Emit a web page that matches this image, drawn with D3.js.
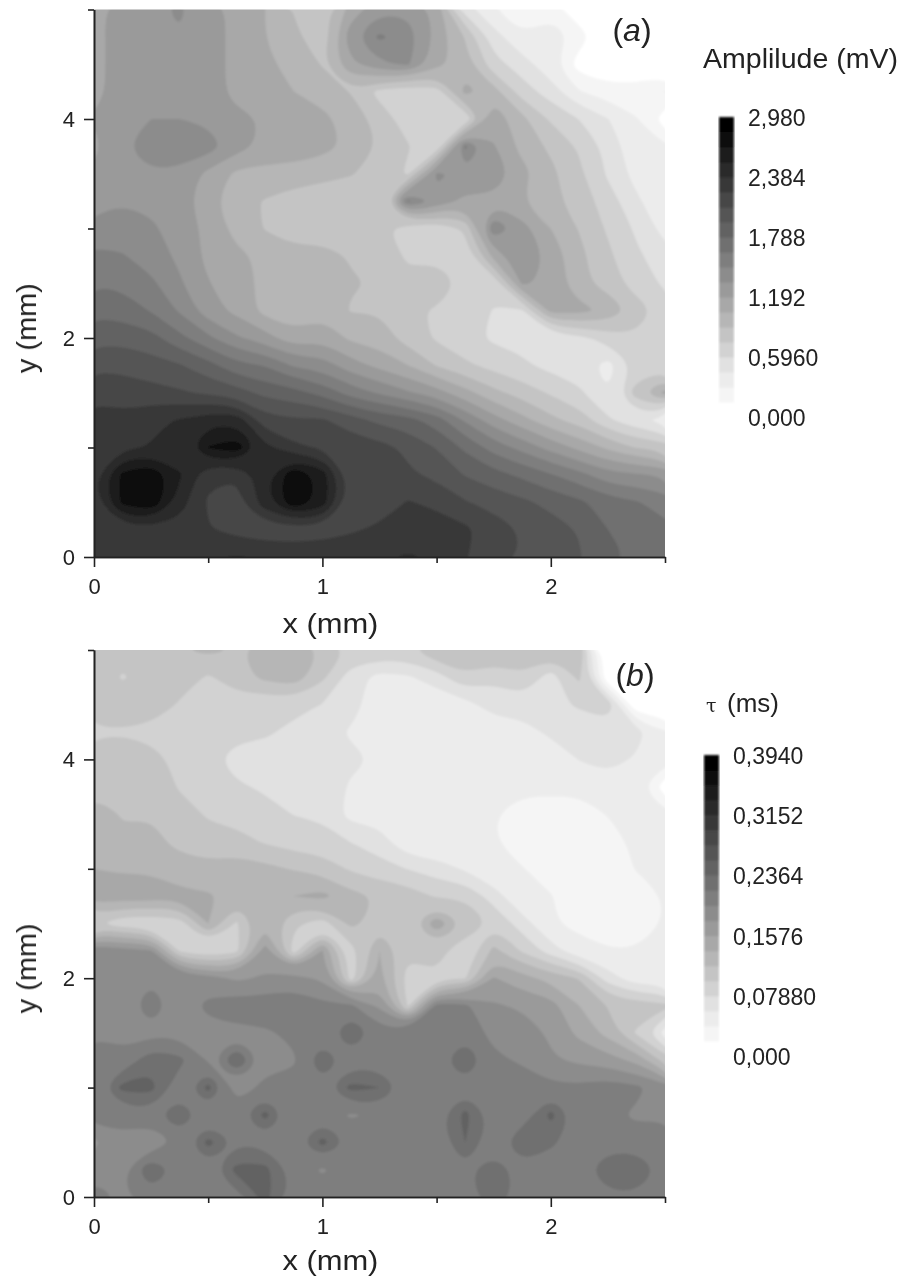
<!DOCTYPE html>
<html>
<head>
<meta charset="utf-8">
<script src="https://cdnjs.cloudflare.com/ajax/libs/d3/7.8.5/d3.min.js"></script>
<style>
  html, body { margin: 0; background: #fff; }
  svg { display: block; }
  text { font-family: "Liberation Sans", Arial, sans-serif; fill: #222; }
  .axis path, .axis line { stroke: #222; stroke-width: 1.6; }
</style>
</head>
<body>
<svg id="fig" width="901" height="1278"></svg>
<script>
// both maps: rows run from y = 5 mm down to y = 0, columns from x = 0 to 2.5 mm
// values are read against the colour bars, 255 = top of the bar
const ampGrid = [
  [90,100,105,110,100,90,80,65,60,85,105,105,90,30,15,10,10,3,0,0,0],
  [90,100,105,107,100,90,80,70,55,105,125,115,90,65,30,15,23,10,0,0,0],
  [90,100,105,105,100,90,83,75,65,90,105,110,85,72,43,30,17,5,0,0,0],
  [90,100,105,103,100,90,85,80,75,65,47,42,45,85,72,45,30,15,10,10,15],
  [95,105,108,108,105,97,93,88,83,75,60,45,40,40,90,70,50,37,25,15,5],
  [90,107,115,115,115,100,90,90,85,77,65,53,40,125,95,75,63,50,33,17,15],
  [97,105,107,105,90,77,75,73,70,67,60,50,110,105,105,85,70,55,35,20,15],
  [100,107,105,100,85,70,65,60,58,57,55,125,105,90,90,80,70,60,45,27,15],
  [115,115,110,103,90,75,65,60,60,60,55,45,40,55,120,100,80,65,50,35,20],
  [125,123,115,105,90,83,77,70,70,65,60,50,47,43,85,105,90,70,55,40,30],
  [135,133,125,110,95,85,77,70,77,67,65,55,65,47,40,97,90,70,60,45,35],
  [147,143,135,120,100,90,75,70,75,65,65,55,50,42,37,35,85,85,77,60,45],
  [160,160,155,140,125,110,100,85,90,77,73,60,50,42,35,33,27,33,45,50,50],
  [175,173,170,165,155,140,135,120,115,100,90,80,65,55,47,40,33,30,20,40,45],
  [190,187,183,180,175,170,160,155,145,130,120,110,100,85,70,60,50,40,25,60,85],
  [195,195,203,207,215,215,183,180,180,170,160,155,143,120,100,85,70,60,40,27,20],
  [197,203,207,207,235,243,210,195,190,187,183,175,163,147,130,117,103,90,77,65,60],
  [203,238,247,222,195,193,215,247,228,185,180,180,175,163,155,147,137,127,113,110,105],
  [200,238,247,213,190,187,215,247,228,183,183,193,187,179,173,167,160,153,143,137,130],
  [195,197,200,200,193,187,183,183,185,190,195,200,203,195,185,177,170,163,150,145,140],
  [197,200,203,203,205,207,205,203,203,203,205,207,205,193,183,177,170,165,155,147,143]
];
const tauGrid = [
  [65,60,60,65,70,65,70,75,65,50,50,50,65,65,65,65,60,65,0,0,0],
  [65,50,60,60,50,60,70,75,55,30,20,23,30,50,40,50,30,55,0,0,0],
  [60,65,65,50,45,45,40,43,37,30,17,17,17,20,30,30,33,40,50,0,0],
  [50,50,45,43,43,43,40,33,30,23,20,20,17,17,17,20,27,27,27,29,15],
  [60,65,60,45,43,30,30,33,27,27,23,23,23,19,17,17,17,25,29,23,20],
  [60,65,65,50,43,40,35,33,33,23,20,23,23,19,17,17,17,17,19,17,5],
  [75,65,65,60,50,45,43,37,35,20,19,17,15,15,15,10,10,10,15,17,17],
  [70,68,70,62,58,58,50,45,43,37,30,15,15,15,15,10,9,9,10,17,17],
  [80,78,78,72,70,72,70,65,60,50,43,37,30,23,15,15,10,10,10,15,17],
  [88,88,88,84,82,75,75,80,85,70,65,60,50,50,30,15,15,10,10,10,15],
  [55,40,40,45,80,50,78,55,45,70,60,60,90,65,50,30,15,13,10,10,15],
  [120,115,110,50,38,48,100,45,95,45,80,55,58,40,70,50,30,17,15,15,17],
  [120,120,120,120,115,105,110,115,105,45,85,45,50,50,95,85,75,65,30,17,17],
  [120,115,130,115,125,130,130,130,125,125,105,50,127,125,110,105,100,80,65,60,55],
  [120,118,118,118,118,118,120,125,125,150,128,130,130,130,118,118,105,90,75,50,20],
  [135,125,145,140,120,150,118,120,148,128,127,130,130,150,125,120,110,105,100,90,60],
  [125,155,155,125,155,115,125,127,130,155,150,127,130,130,130,130,125,125,130,125,115],
  [130,125,130,150,125,130,155,125,130,120,125,135,130,155,130,125,155,127,125,120,120],
  [105,120,110,125,155,135,130,130,155,133,130,130,125,150,125,150,138,130,130,127,130],
  [115,120,150,130,130,155,155,130,120,130,130,130,130,133,145,130,130,130,145,150,130],
  [130,120,130,130,130,130,155,130,130,130,130,133,133,133,140,133,133,133,133,133,130]
];
const ampMax = 2.98;
const tauMax = 0.394;
const ampTicks = [0, 0.596, 1.192, 1.788, 2.384, 2.98];
const ampTickLabels = ['0,000', '0,5960', '1,192', '1,788', '2,384', '2,980'];
const tauTicks = [0, 0.0788, 0.1576, 0.2364, 0.3152, 0.394];
const tauTickLabels = ['0,000', '0,07880', '0,1576', '0,2364', '0,3152', '0,3940'];
const xMajor = [0, 1, 2];
const xMinor = [0.5, 1.5, 2.5];
const yMajor = [0, 2, 4];
const yMinor = [1, 3, 5];
const nLevels = 20;

const svg = d3.select('#fig');
const defs = svg.append('defs');
defs.append('filter').attr('id', 'soft')
  .attr('x', '-2%').attr('y', '-2%').attr('width', '104%').attr('height', '104%')
  .append('feGaussianBlur').attr('stdDeviation', 0.9);
defs.append('filter').attr('id', 'softText')
  .attr('x', '-10%').attr('y', '-10%').attr('width', '120%').attr('height', '120%')
  .append('feGaussianBlur').attr('stdDeviation', 0.45);

const x = d3.scaleLinear().domain([0, 2.5]).range([94, 665]);
// the bar's pale end is squeezed, so both scales bend there
const grey = d3.scaleLinear().domain([0, 1, 2, 3, 4, nLevels - 1]).range([255, 245, 236, 225, 210, 0]);
const readLevel = d3.scaleLinear().domain([0, 5, 10, 19, 30, 45, 255]).range([0, 0.5, 1.5, 2.5, 3.5, 4.5, 19.5]);
const colorOf = k => { const g = Math.round(grey(k)); return `rgb(${g},${g},${g})`; };

function drawPanel(id, grid, vMax, top, bottom, letter, letterX, letterY, xLabelY) {
  const y = d3.scaleLinear().domain([0, 5]).range([bottom, top]);
  const g = svg.append('g');

  g.append('clipPath').attr('id', 'clip' + id)
    .append('rect')
    .attr('x', x(0)).attr('y', y(5))
    .attr('width', x(2.5) - x(0)).attr('height', y(0) - y(5));

  const rows = grid.length, cols = grid[0].length;
  const step = vMax / nLevels;
  const flat = grid.flat().map(d => readLevel(d) * step);
  const thresholds = d3.range(0, nLevels).map(k => k * step);

  const contours = d3.contours().size([cols, rows]).thresholds(thresholds)(flat);

  // contour coordinates sit half a cell off the grid nodes
  const ringLine = d3.line()
    .x(p => x((p[0] - 0.5) * 2.5 / (cols - 1)))
    .y(p => y(5 - (p[1] - 0.5) * 5 / (rows - 1)))
    .curve(d3.curveBasisClosed);
  const pathOf = d => d.coordinates
    .flatMap(poly => poly.map(ring => ringLine(ring.slice(0, -1))))
    .join('');

  g.append('g')
    .attr('clip-path', `url(#clip${id})`)
    .append('g')
    .attr('filter', 'url(#soft)')
    .selectAll('path')
    .data(contours)
    .join('path')
    .attr('d', pathOf)
    .attr('fill-rule', 'evenodd')
    .attr('fill', (d, i) => colorOf(i));

  // major and minor ticks are two axes on top of each other
  const axisLayer = g.append('g').attr('class', 'axis');
  axisLayer.append('g').attr('transform', `translate(${x(0)},0)`)
    .call(d3.axisLeft(y).tickValues(yMajor).tickSize(10).tickSizeOuter(0).tickPadding(9).tickFormat(d3.format('d')));
  axisLayer.append('g').attr('transform', `translate(${x(0)},0)`)
    .call(d3.axisLeft(y).tickValues(yMinor).tickSize(6).tickSizeOuter(0).tickFormat(''));
  axisLayer.append('g').attr('transform', `translate(0,${y(0)})`)
    .call(d3.axisBottom(x).tickValues(xMajor).tickSize(10).tickSizeOuter(0).tickPadding(11).tickFormat(d3.format('d')));
  axisLayer.append('g').attr('transform', `translate(0,${y(0)})`)
    .call(d3.axisBottom(x).tickValues(xMinor).tickSize(6).tickSizeOuter(0).tickFormat(''));
  axisLayer.selectAll('text').style('font-size', '22px').style('font-family', '"Liberation Sans", Arial, sans-serif');

  g.append('text')
    .attr('x', x(1.035)).attr('y', xLabelY)
    .attr('text-anchor', 'middle')
    .attr('textLength', 96).attr('lengthAdjust', 'spacingAndGlyphs')
    .style('font-size', '27px')
    .text('x (mm)');

  g.append('text')
    .attr('transform', `translate(36,${y(2.09)}) rotate(-90)`)
    .attr('text-anchor', 'middle')
    .attr('textLength', 90).attr('lengthAdjust', 'spacingAndGlyphs')
    .style('font-size', '27px')
    .text('y (mm)');

  const lab = g.append('text')
    .attr('x', letterX).attr('y', letterY)
    .attr('text-anchor', 'middle')
    .style('font-size', '32px');
  lab.append('tspan').text('(');
  lab.append('tspan').style('font-style', 'italic').text(letter);
  lab.append('tspan').text(')');
}

function drawColorBar(vMax, ticks, labels, barX, zeroY, topY) {
  const barY = d3.scaleLinear().domain([0, vMax]).range([zeroY, topY]);
  const step = vMax / nLevels;
  const g = svg.append('g');

  g.append('g').attr('filter', 'url(#soft)')
    .selectAll('rect')
    .data(d3.range(0, nLevels))
    .join('rect')
    .attr('x', barX)
    .attr('width', 15)
    .attr('y', k => barY((k + 1) * step))
    .attr('height', k => barY(k * step) - barY((k + 1) * step) + 0.5)
    .attr('fill', k => colorOf(k));

  g.selectAll('text.tick')
    .data(ticks)
    .join('text')
    .attr('class', 'tick')
    .attr('x', barX + 29)
    .attr('y', d => barY(d) + 1)
    .attr('dominant-baseline', 'central')
    .style('font-size', '23px')
    .text((d, i) => labels[i]);
}

drawPanel('a', ampGrid, ampMax, 9.5, 557, 'a', 632, 41, 633);
drawPanel('b', tauGrid, tauMax, 650, 1197, 'b', 635, 686, 1270);

drawColorBar(ampMax, ampTicks, ampTickLabels, 719, 417, 117);
drawColorBar(tauMax, tauTicks, tauTickLabels, 704, 1056, 755);

svg.append('text')
  .attr('x', 703).attr('y', 68)
  .attr('textLength', 195).attr('lengthAdjust', 'spacingAndGlyphs')
  .style('font-size', '28px')
  .text('Amplilude (mV)');

const tauTitle = svg.append('text')
  .attr('x', 706).attr('y', 712)
  .style('font-size', '26px');
tauTitle.append('tspan').style('font-family', '"DejaVu Serif", serif').style('font-size', '19px').text('τ');
tauTitle.append('tspan').attr('x', 727).text('(ms)');

svg.selectAll('text').attr('filter', 'url(#softText)');
</script>
</body>
</html>
